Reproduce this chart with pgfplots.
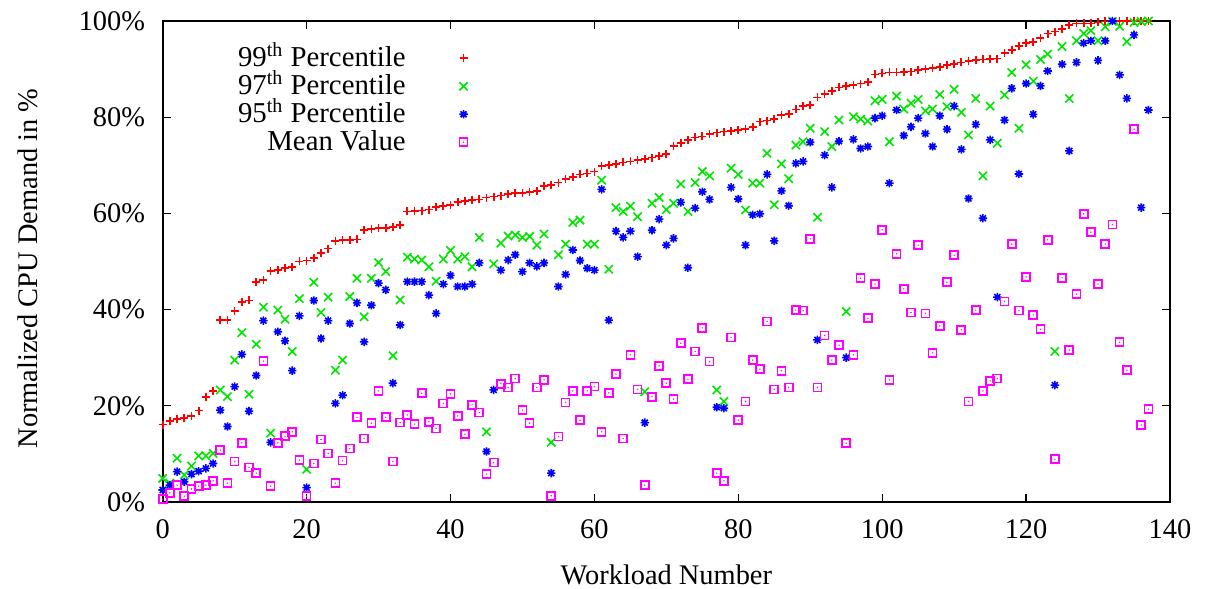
\documentclass[border=0pt]{standalone}
\usepackage{fontspec}
\setmainfont{Liberation Serif}
\usepackage{pgfplots}
\pgfplotsset{compat=1.18}
\usepackage{pgfplotstable}

\definecolor{gpred}{rgb}{1,0,0}
\definecolor{gpgreen}{rgb}{0,0.9,0}
\definecolor{gpblue}{rgb}{0,0,1}
\definecolor{gpmagenta}{rgb}{1,0,1}

% gnuplot-like point symbols
\pgfdeclareplotmark{gpplus}{%
  \pgfpathmoveto{\pgfqpoint{-\pgfplotmarksize}{0pt}}%
  \pgfpathlineto{\pgfqpoint{\pgfplotmarksize}{0pt}}%
  \pgfpathmoveto{\pgfqpoint{0pt}{-\pgfplotmarksize}}%
  \pgfpathlineto{\pgfqpoint{0pt}{\pgfplotmarksize}}%
  \pgfusepathqstroke}
\pgfdeclareplotmark{gpcross}{%
  \pgfpathmoveto{\pgfqpoint{-0.707\pgfplotmarksize}{-0.707\pgfplotmarksize}}%
  \pgfpathlineto{\pgfqpoint{0.707\pgfplotmarksize}{0.707\pgfplotmarksize}}%
  \pgfpathmoveto{\pgfqpoint{-0.707\pgfplotmarksize}{0.707\pgfplotmarksize}}%
  \pgfpathlineto{\pgfqpoint{0.707\pgfplotmarksize}{-0.707\pgfplotmarksize}}%
  \pgfusepathqstroke}
\pgfdeclareplotmark{gpstar}{%
  \pgfpathmoveto{\pgfqpoint{-\pgfplotmarksize}{0pt}}%
  \pgfpathlineto{\pgfqpoint{\pgfplotmarksize}{0pt}}%
  \pgfpathmoveto{\pgfqpoint{0pt}{-\pgfplotmarksize}}%
  \pgfpathlineto{\pgfqpoint{0pt}{\pgfplotmarksize}}%
  \pgfpathmoveto{\pgfqpoint{-0.707\pgfplotmarksize}{-0.707\pgfplotmarksize}}%
  \pgfpathlineto{\pgfqpoint{0.707\pgfplotmarksize}{0.707\pgfplotmarksize}}%
  \pgfpathmoveto{\pgfqpoint{-0.707\pgfplotmarksize}{0.707\pgfplotmarksize}}%
  \pgfpathlineto{\pgfqpoint{0.707\pgfplotmarksize}{-0.707\pgfplotmarksize}}%
  \pgfusepathqstroke}
\pgfdeclareplotmark{gpsqdot}{%
  \pgfpathrectangle{\pgfqpoint{-\pgfplotmarksize}{-\pgfplotmarksize}}%
    {\pgfqpoint{2\pgfplotmarksize}{2\pgfplotmarksize}}%
  \pgfusepathqstroke
  \pgfpathcircle{\pgfpointorigin}{0.4pt}%
  \pgfusepathqfill}

% workload, 99th, 97th, 95th percentile and mean CPU demand (%)
\pgfplotstableread{
x p99 p97 p95 mean
0 16.1 4.9 2.5 0.6
1 16.8 3.9 3.5 1.9
2 17.2 9.1 6.3 3.5
3 17.4 5.6 4.2 1.2
4 17.9 7.5 5.8 2.7
5 19.0 9.6 6.4 3.3
6 21.9 9.6 7.0 3.5
7 23.1 10.1 8.0 4.4
8 37.8 23.3 19.1 10.8
9 37.8 21.9 15.7 3.9
10 39.7 29.5 24.0 8.4
11 41.6 35.2 30.7 12.3
12 41.9 22.4 18.9 7.2
13 45.8 32.8 26.3 6.0
14 46.2 40.5 37.7 29.3
15 48.0 14.3 12.4 3.3
16 48.2 39.9 35.4 12.3
17 48.6 38.0 33.5 13.7
18 48.9 31.3 27.3 14.6
19 50.0 42.3 38.7 8.7
20 50.2 6.8 3.0 1.2
21 50.7 45.7 41.9 8.0
22 51.7 39.4 34.0 13.0
23 52.7 42.6 37.7 10.1
24 54.3 27.4 20.5 3.9
25 54.5 29.5 22.2 8.6
26 54.5 42.7 37.1 11.1
27 54.6 46.5 41.4 17.6
28 56.5 38.5 33.3 13.2
29 56.8 46.5 40.9 16.4
30 56.9 49.8 45.5 23.1
31 57.0 47.9 44.1 17.6
32 57.2 30.4 24.7 8.4
33 57.6 42.0 36.8 16.5
34 60.4 50.9 45.8 18.1
35 60.5 50.5 45.8 16.2
36 60.6 50.3 45.8 22.6
37 60.8 48.9 43.0 16.7
38 61.4 45.9 39.2 15.3
39 61.6 50.5 45.3 20.5
40 61.7 52.3 47.1 22.5
41 62.4 50.5 44.8 17.9
42 62.6 51.0 44.8 14.1
43 62.8 48.9 45.3 20.2
44 62.9 55.0 49.7 18.6
45 63.3 14.6 10.5 5.8
46 63.5 49.5 23.3 8.2
47 63.7 53.8 48.2 24.6
48 64.0 55.3 50.3 23.8
49 64.2 55.5 51.4 25.7
50 64.3 55.0 47.9 19.1
51 64.5 55.2 49.7 16.4
52 64.7 53.4 49.0 23.8
53 65.7 55.7 49.7 25.4
54 65.9 12.4 6.0 1.3
55 66.4 51.4 44.8 13.6
56 67.1 53.6 47.3 20.7
57 67.6 58.1 52.4 23.1
58 68.1 58.6 50.2 17.0
59 68.3 53.6 48.6 23.1
60 68.7 53.6 48.2 24.0
61 69.9 66.9 65.0 14.6
62 70.1 48.4 37.8 22.7
63 70.3 61.2 56.3 26.6
64 70.6 60.4 55.0 13.2
65 70.8 61.5 56.3 30.6
66 71.1 59.3 51.0 23.4
67 71.3 22.9 16.5 3.5
68 71.6 62.1 56.5 21.9
69 72.0 63.3 58.8 28.3
70 72.3 60.8 53.4 24.7
71 74.0 62.1 54.8 21.4
72 74.7 66.1 62.3 33.0
73 75.3 60.4 48.7 25.5
74 75.8 66.4 61.1 31.3
75 76.0 68.7 64.5 36.2
76 76.5 67.8 62.9 29.2
77 76.8 23.3 19.7 6.0
78 77.0 20.9 19.5 4.4
79 77.2 69.4 65.4 34.2
80 77.3 68.1 63.0 17.0
81 77.5 60.7 53.4 20.9
82 77.9 66.3 59.7 29.5
83 79.1 66.3 59.9 27.6
84 79.3 72.5 68.1 37.5
85 79.6 61.8 54.3 23.4
86 80.5 70.3 64.7 27.3
87 80.7 67.2 61.6 23.8
88 81.6 74.2 70.4 39.9
89 82.3 74.9 70.8 39.8
90 82.6 77.7 74.8 54.7
91 84.1 59.2 33.7 23.8
92 84.8 77.0 72.1 34.6
93 85.4 73.9 65.4 29.5
94 86.2 79.4 75.0 32.6
95 86.5 39.6 30.0 12.2
96 86.7 80.1 75.4 30.6
97 87.0 79.6 73.5 46.5
98 87.3 79.2 73.9 38.2
99 88.9 83.4 79.8 45.3
100 89.1 83.7 80.3 56.6
101 89.3 74.9 66.3 25.4
102 89.3 84.4 81.5 51.6
103 89.4 81.7 76.2 44.3
104 89.5 82.9 78.0 39.4
105 89.8 83.7 79.8 53.4
106 90.0 81.3 76.6 39.2
107 90.3 81.7 73.9 31.0
108 90.5 84.7 80.3 36.6
109 90.8 82.2 77.5 45.7
110 91.1 85.8 82.3 51.3
111 91.4 81.0 73.3 35.8
112 91.7 76.3 63.1 20.9
113 91.9 83.9 78.5 39.9
114 92.0 67.8 59.0 23.1
115 92.1 82.3 75.3 25.2
116 92.2 74.6 42.6 25.7
117 93.3 84.6 79.4 41.7
118 94.0 89.3 86.0 53.6
119 94.8 77.7 68.2 39.8
120 95.4 90.9 87.0 46.8
121 95.7 87.5 80.6 38.9
122 96.4 92.0 86.5 35.9
123 97.4 93.1 89.6 54.5
124 97.8 31.3 24.3 8.9
125 98.3 94.7 91.0 46.6
126 99.2 83.9 73.0 31.6
127 99.5 95.9 91.4 43.2
128 99.5 97.4 95.4 59.9
129 99.5 98.0 95.9 56.1
130 99.7 95.9 91.8 45.3
131 99.9 98.8 95.9 53.6
132 99.9 99.9 100 57.7
133 100 98.9 88.8 33.2
134 100 95.7 83.9 27.4
135 100 99.7 97.1 77.5
136 100 99.9 61.2 16.0
137 100 100 81.5 19.3
}\cpudata

\begin{document}
\begin{tikzpicture}[font=\fontsize{14.2}{17}\selectfont]
\useasboundingbox (-81.35pt,-43.5pt) rectangle (522.15pt,251pt);
\begin{axis}[
  at={(0,0)}, anchor=south west,
  scale only axis, width=503.65pt, height=240.5pt,
  xmin=0, xmax=140, ymin=0, ymax=100,
  xtick={0,20,...,140}, ytick={0,20,...,100},
  yticklabel={\pgfmathprintnumber{\tick}\%},
  /pgf/number format/assume math mode=true,
  tick align=inside, major tick length=4pt,
  tick style={black, line width=0.6pt},
  axis line style={black, line width=0.9pt},
  xticklabel style={yshift=-5.5pt},
  yticklabel style={xshift=-5.3pt},
  xlabel={Workload Number},
  ylabel={Normalized CPU Demand in \%},
  every axis x label/.style={at={(axis description cs:0.5,-0.152)}, anchor=center},
  every axis y label/.style={at={(axis description cs:-0.1337,0.4855)}, rotate=90, anchor=center},
  legend style={at={(axis description cs:0.0728,0.9524)}, anchor=north west,
    draw=none, fill=none, inner sep=0pt, row sep=0pt,
    font=\fontsize{14.4}{17}\selectfont,
    nodes={inner sep=0.8pt, text height=10.4pt, text depth=2pt}},
  legend cell align=right,
  legend plot pos=right,
  legend image code/.code={\path (0pt,0pt) (31pt,0pt);
    \draw[#1] plot coordinates {(27.7pt,0pt)};},
  clip=false,
]
\addplot[only marks, draw=gpred, fill=gpred, mark=gpplus, mark size=2pt, line width=0.85pt]
  table[x=x, y=p99] {\cpudata};
\addlegendentry{99\textsuperscript{th} Percentile}
\addplot[only marks, draw=gpgreen, fill=gpgreen, mark=gpcross, mark size=2.9pt, line width=0.8pt]
  table[x=x, y=p97] {\cpudata};
\addlegendentry{97\textsuperscript{th} Percentile}
\addplot[only marks, draw=gpblue, fill=gpblue, mark=gpstar, mark size=2.1pt, line width=0.8pt]
  table[x=x, y=p95] {\cpudata};
\addlegendentry{95\textsuperscript{th} Percentile}
\addplot[only marks, draw=gpmagenta, fill=gpmagenta, mark=gpsqdot, mark size=2pt, line width=0.85pt]
  table[x=x, y=mean] {\cpudata};
\addlegendentry{Mean Value}
\end{axis}
\end{tikzpicture}
\end{document}
